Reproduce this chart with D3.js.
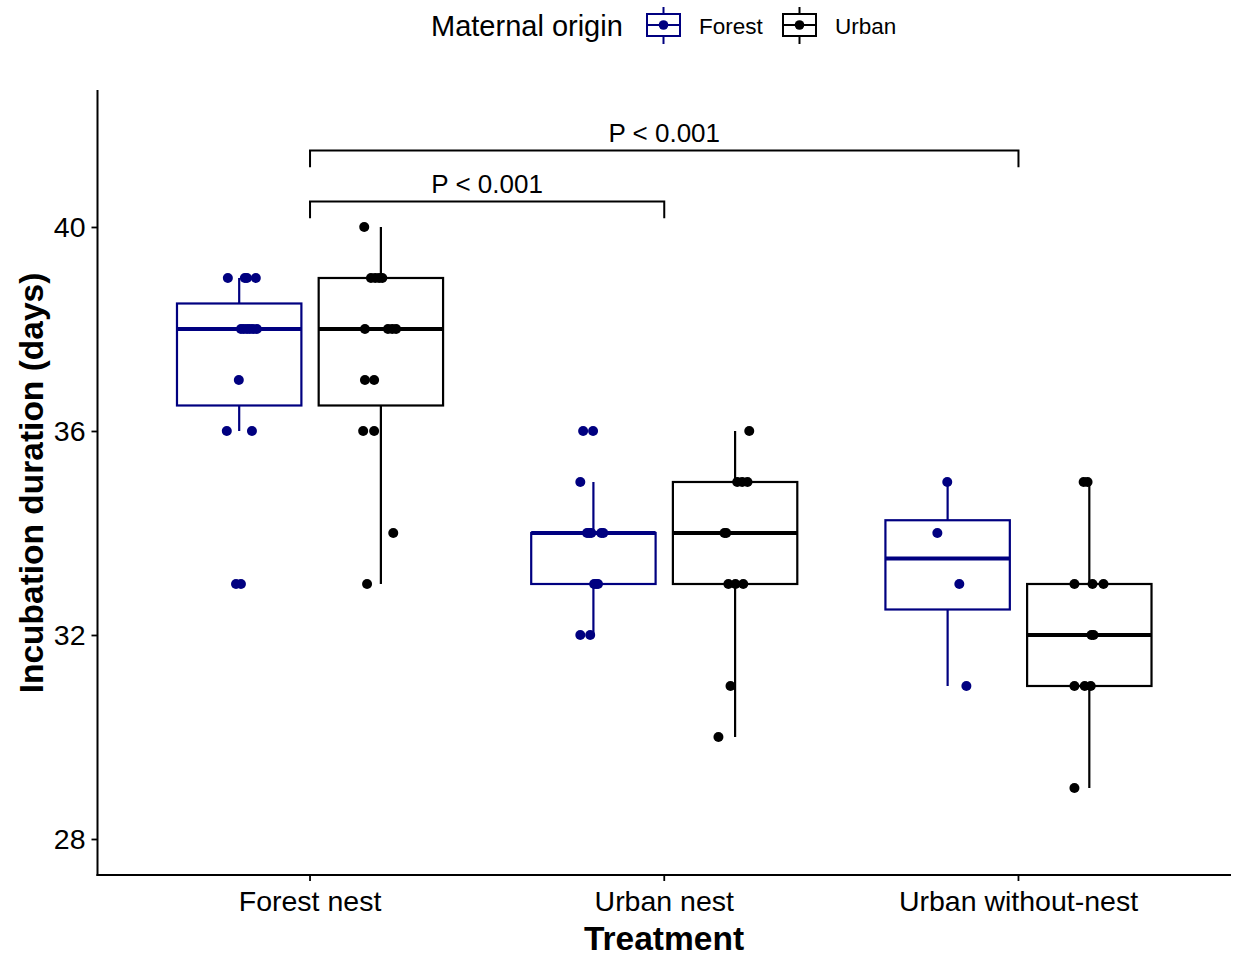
<!DOCTYPE html>
<html>
<head>
<meta charset="utf-8">
<script src="https://cdn.jsdelivr.net/npm/d3@7"></script>
<style>
  html, body { margin: 0; padding: 0; background: #fff; }
  svg text { font-family: "Liberation Sans", Arial, sans-serif; fill: #000; }
</style>
</head>
<body>
<svg id="chart" width="1236" height="956"></svg>
<script>
// ---------------- data ----------------
const treatments = ["Forest nest", "Urban nest", "Urban without-nest"];
const origins = ["Forest", "Urban"];
const originColors = ["#000080", "#000000"];
const yTicks = [28, 32, 36, 40];

// incubation durations (days), per treatment x origin
const forestNestForest = [33, 33, 36, 36, 37, 38, 38, 38, 38, 38, 38, 39, 39, 39, 39];
const forestNestUrban  = [33, 34, 36, 36, 37, 37, 38, 38, 38, 38, 39, 39, 39, 39, 40];
const urbanNestForest  = [32, 32, 33, 33, 33, 34, 34, 34, 34, 34, 35, 36, 36];
const urbanNestUrban   = [30, 31, 33, 33, 33, 34, 34, 35, 35, 35, 36];
const withoutNestForest = [31, 33, 34, 35];
const withoutNestUrban  = [29, 31, 31, 31, 32, 32, 33, 33, 33, 35, 35];

// horizontal jitter (in category units)
const jForestNestForest = [-0.009, 0.005, -0.035, 0.036, -0.001, 0.005, 0.013, 0.022, 0.030, 0.039, 0.050, -0.032, 0.016, 0.022, 0.047];
const jForestNestUrban  = [-0.039, 0.035, -0.050, -0.019, -0.045, -0.019, -0.045, 0.020, 0.032, 0.043, -0.028, -0.016, -0.005, 0.004, -0.047];
const jUrbanNestForest  = [-0.037, -0.009, 0.002, 0.008, 0.013, -0.018, -0.012, -0.006, 0.022, 0.028, -0.037, -0.029, -0.001];
const jUrbanNestUrban   = [-0.047, -0.013, -0.019, 0.001, 0.023, -0.030, -0.025, 0.006, 0.020, 0.035, 0.040];
const jWithoutNestForest = [0.053, 0.033, -0.029, -0.001];
const jWithoutNestUrban  = [-0.042, -0.042, -0.013, 0.004, 0.006, 0.012, -0.042, 0.009, 0.040, -0.016, -0.005];

// significance comparisons
const compFrom = ["Forest nest", "Forest nest"];
const compTo   = ["Urban nest", "Urban without-nest"];
const compY    = [40.5, 41.5];
const compLabel = ["P < 0.001", "P < 0.001"];

// ---------------- build ----------------
const groups = [
  {t: "Forest nest", o: "Forest", v: forestNestForest, j: jForestNestForest},
  {t: "Forest nest", o: "Urban", v: forestNestUrban, j: jForestNestUrban},
  {t: "Urban nest", o: "Forest", v: urbanNestForest, j: jUrbanNestForest},
  {t: "Urban nest", o: "Urban", v: urbanNestUrban, j: jUrbanNestUrban},
  {t: "Urban without-nest", o: "Forest", v: withoutNestForest, j: jWithoutNestForest},
  {t: "Urban without-nest", o: "Urban", v: withoutNestUrban, j: jWithoutNestUrban}
];

const svg = d3.select("#chart");
const pLeft = 97.5, pRight = 1231, pTop = 90, pBottom = 875;

const x = d3.scaleBand().domain(treatments).range([pLeft, pRight]).paddingInner(0.2).paddingOuter(0.2);
const xo = d3.scaleBand().domain(origins).range([0, x.bandwidth()]).padding(0);
const step = x.step();
const y = d3.scaleLinear().domain([27.294, 42.686]).range([pBottom, pTop]);
const color = d3.scaleOrdinal().domain(origins).range(originColors);
const boxW = xo.bandwidth() * 0.878;

const FONT = "'Liberation Sans', Arial, sans-serif";

// boxes
groups.forEach(g => {
  const s = g.v.slice().sort(d3.ascending);
  const q1 = d3.quantile(s, 0.25), med = d3.quantile(s, 0.5), q3 = d3.quantile(s, 0.75);
  const iqr = q3 - q1;
  const lo = d3.min(s.filter(d => d >= q1 - 1.5 * iqr));
  const hi = d3.max(s.filter(d => d <= q3 + 1.5 * iqr));
  const cx = x(g.t) + xo(g.o) + xo.bandwidth() / 2;
  const c = color(g.o);
  const gg = svg.append("g");
  gg.append("line").attr("x1", cx).attr("x2", cx).attr("y1", y(q3)).attr("y2", y(hi))
    .attr("stroke", c).attr("stroke-width", 2.2);
  gg.append("line").attr("x1", cx).attr("x2", cx).attr("y1", y(q1)).attr("y2", y(lo))
    .attr("stroke", c).attr("stroke-width", 2.2);
  gg.append("rect").attr("x", cx - boxW / 2).attr("y", y(q3)).attr("width", boxW)
    .attr("height", y(q1) - y(q3)).attr("fill", "#fff").attr("stroke", c).attr("stroke-width", 2.2);
  gg.append("line").attr("x1", cx - boxW / 2).attr("x2", cx + boxW / 2).attr("y1", y(med)).attr("y2", y(med))
    .attr("stroke", c).attr("stroke-width", 4.2);
  g.cx = cx;
});

// points
groups.forEach(g => {
  svg.append("g").selectAll("circle").data(g.v.map((v, i) => ({v, j: g.j[i]})))
    .join("circle")
    .attr("cx", d => g.cx + d.j * step)
    .attr("cy", d => y(d.v))
    .attr("r", 5)
    .attr("fill", color(g.o));
});

// axes
const yAxis = d3.axisLeft(y).tickValues(yTicks).tickSize(6).tickPadding(6);
const ya = svg.append("g").attr("transform", `translate(${pLeft},0)`).call(yAxis);
ya.select(".domain").remove();
ya.selectAll(".tick line").attr("stroke", "#000").attr("stroke-width", 1.8);
ya.selectAll(".tick text").attr("font-size", 28.5).attr("font-family", FONT).attr("fill", "#1a1a1a").attr("dy", "0.35em");
svg.append("line").attr("x1", pLeft).attr("x2", pLeft).attr("y1", pTop).attr("y2", pBottom + 1)
  .attr("stroke", "#000").attr("stroke-width", 2);

const xAxis = d3.axisBottom(x).tickSize(6).tickPadding(6);
const xa = svg.append("g").attr("transform", `translate(0,${pBottom})`).call(xAxis);
xa.select(".domain").remove();
xa.selectAll(".tick line").attr("stroke", "#000").attr("stroke-width", 1.8);
xa.selectAll(".tick text").attr("font-size", 28.5).attr("font-family", FONT).attr("fill", "#1a1a1a").attr("dy", "0.85em");
svg.append("line").attr("x1", pLeft - 1).attr("x2", pRight).attr("y1", pBottom).attr("y2", pBottom)
  .attr("stroke", "#000").attr("stroke-width", 2);

// axis titles
svg.append("text").attr("x", 664).attr("y", 950).attr("text-anchor", "middle")
  .attr("font-size", 33.5).attr("font-weight", "bold").text("Treatment");
svg.append("text").attr("transform", `translate(43,483) rotate(-90)`).attr("text-anchor", "middle")
  .attr("font-size", 33.5).attr("font-weight", "bold").text("Incubation duration (days)");

// significance brackets
const tickLen = 0.33;
compFrom.forEach((f, i) => {
  const x1 = x(f) + x.bandwidth() / 2, x2 = x(compTo[i]) + x.bandwidth() / 2;
  const yy = y(compY[i]), yd = y(compY[i] - tickLen);
  svg.append("path").attr("d", `M${x1},${yd}V${yy}H${x2}V${yd}`)
    .attr("fill", "none").attr("stroke", "#000").attr("stroke-width", 2);
  svg.append("text").attr("x", (x1 + x2) / 2).attr("y", yy - 8).attr("text-anchor", "middle")
    .attr("font-size", 26).text(compLabel[i]);
});

// legend
const leg = svg.append("g");
leg.append("text").attr("x", 431).attr("y", 36).attr("font-size", 29).text("Maternal origin");
const keyX = [647, 783];
origins.forEach((o, i) => {
  const kx = keyX[i], c = color(o), kc = kx + 16.5;
  leg.append("line").attr("x1", kc).attr("x2", kc).attr("y1", 7).attr("y2", 44).attr("stroke", c).attr("stroke-width", 2);
  leg.append("rect").attr("x", kx).attr("y", 14).attr("width", 33).attr("height", 22)
    .attr("fill", "#fff").attr("stroke", c).attr("stroke-width", 2);
  leg.append("line").attr("x1", kx).attr("x2", kx + 33).attr("y1", 25).attr("y2", 25).attr("stroke", c).attr("stroke-width", 2);
  leg.append("circle").attr("cx", kc).attr("cy", 25).attr("r", 4.8).attr("fill", c);
  leg.append("text").attr("x", kx + 52).attr("y", 34).attr("font-size", 22.5).text(o);
});
</script>
</body>
</html>
